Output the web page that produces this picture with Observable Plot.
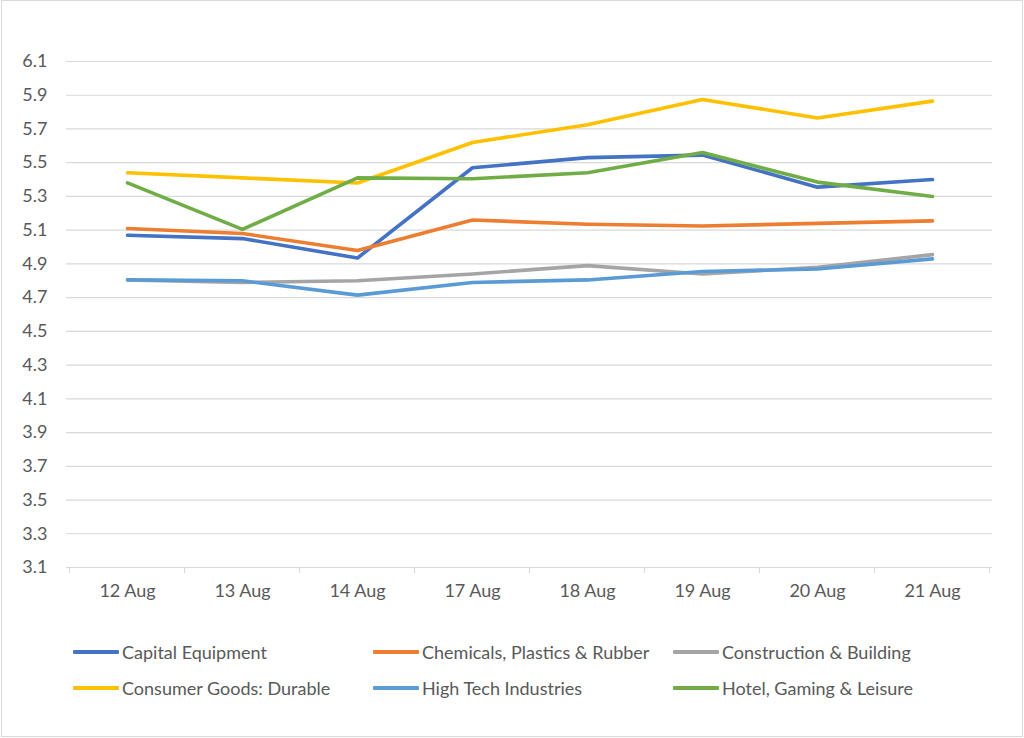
<!DOCTYPE html>
<html>
<head>
<meta charset="utf-8">
<script src="https://cdn.jsdelivr.net/npm/d3@7"></script>
<script src="https://cdn.jsdelivr.net/npm/@observablehq/plot@0.6"></script>
<style>
  html, body { margin: 0; padding: 0; background: #fff; }
  #frame { position: absolute; left: 1px; top: 0px; width: 1020px; height: 735px; border: 1px solid #D9D9D9; }
  #chart { position: absolute; left: 0; top: 0; }
  .leg { position: absolute; font-family: Lato, "Open Sans", sans-serif; font-size: 18px; color: #595959; display: flex; align-items: center; white-space: nowrap; }
  .sw { width: 46px; height: 4px; margin-right: 3px; border-radius: 1px; }
</style>
</head>
<body>
<div id="frame"></div>
<div id="chart"></div>
<div id="legend"></div>
<script>
const dates = ["12 Aug", "13 Aug", "14 Aug", "17 Aug", "18 Aug", "19 Aug", "20 Aug", "21 Aug"];
const seriesNames = ["Capital Equipment", "Chemicals, Plastics & Rubber", "Construction & Building",
                     "Consumer Goods: Durable", "High Tech Industries", "Hotel, Gaming & Leisure"];
const colors = ["#4472C4", "#ED7D31", "#A5A5A5", "#FFC000", "#5B9BD5", "#70AD47"];
const capitalEquipment = [5.07, 5.05, 4.935, 5.47, 5.53, 5.545, 5.355, 5.40];
const chemicals        = [5.11, 5.08, 4.98, 5.16, 5.135, 5.125, 5.14, 5.155];
const construction     = [4.805, 4.79, 4.80, 4.84, 4.89, 4.84, 4.88, 4.955];
const consumerDurable  = [5.44, 5.41, 5.38, 5.62, 5.725, 5.875, 5.765, 5.865];
const highTech         = [4.805, 4.80, 4.715, 4.79, 4.805, 4.855, 4.87, 4.93];
const hotelGaming      = [5.38, 5.105, 5.41, 5.405, 5.44, 5.56, 5.385, 5.30];
const yTicks = [3.1, 3.3, 3.5, 3.7, 3.9, 4.1, 4.3, 4.5, 4.7, 4.9, 5.1, 5.3, 5.5, 5.7, 5.9, 6.1];

const allSeries = [capitalEquipment, chemicals, construction, consumerDurable, highTech, hotelGaming];
const rows = [];
allSeries.forEach((vals, si) => vals.forEach((v, i) => rows.push({series: seriesNames[si], date: dates[i], value: v})));

const font = 'Lato, "Open Sans", sans-serif';

function categoryTicks(index, scales, values, dimensions) {
  const g = d3.create("svg:g");
  const xs = dates.map(d => scales.x(d));
  const step = xs[1] - xs[0];
  const bounds = xs.map(x => x - step / 2).concat([xs[xs.length - 1] + step / 2]);
  const y0 = dimensions.height - dimensions.marginBottom;
  g.selectAll("line").data(bounds).join("line")
    .attr("x1", d => d).attr("x2", d => d)
    .attr("y1", y0).attr("y2", y0 + 6)
    .attr("stroke", "#D9D9D9").attr("stroke-width", 1);
  return g.node();
}

const chart = Plot.plot({
  width: 1024,
  height: 615,
  marginTop: 61,
  marginBottom: 48,
  marginLeft: 66,
  marginRight: 32,
  style: {fontFamily: font, fontSize: "18px", color: "#595959", background: "transparent"},
  x: {type: "point", domain: dates, padding: 0.5, label: null},
  y: {domain: [3.1, 6.1], label: null},
  color: {domain: seriesNames, range: colors},
  marks: [
    Plot.gridY(yTicks, {stroke: "#D9D9D9", strokeOpacity: 1, strokeWidth: 1.2}),
    Plot.axisY(yTicks, {tickSize: 0, tickPadding: 19, tickFormat: d3.format(".1f"), fill: "#595959", fontSize: 18, label: null}),
    Plot.axisX(dates, {tickSize: 0, tickPadding: 17, fill: "#595959", fontSize: 18, label: null}),
    categoryTicks,
    Plot.line(rows, {x: "date", y: "value", z: "series", stroke: "series", strokeWidth: 3.6,
                     strokeLinejoin: "round", strokeLinecap: "round"})
  ]
});
document.getElementById("chart").appendChild(chart);

const leg = document.getElementById("legend");
const legX = [73, 373, 673];
const legY = [652, 688];
seriesNames.forEach((name, i) => {
  const d = document.createElement("div");
  d.className = "leg";
  d.style.left = legX[i % 3] + "px";
  d.style.top = (legY[Math.floor(i / 3)] - 12) + "px";
  d.style.height = "24px";
  const sw = document.createElement("div");
  sw.className = "sw";
  sw.style.background = colors[i];
  d.appendChild(sw);
  const t = document.createElement("span");
  t.textContent = name;
  d.appendChild(t);
  leg.appendChild(d);
});
</script>
</body>
</html>
